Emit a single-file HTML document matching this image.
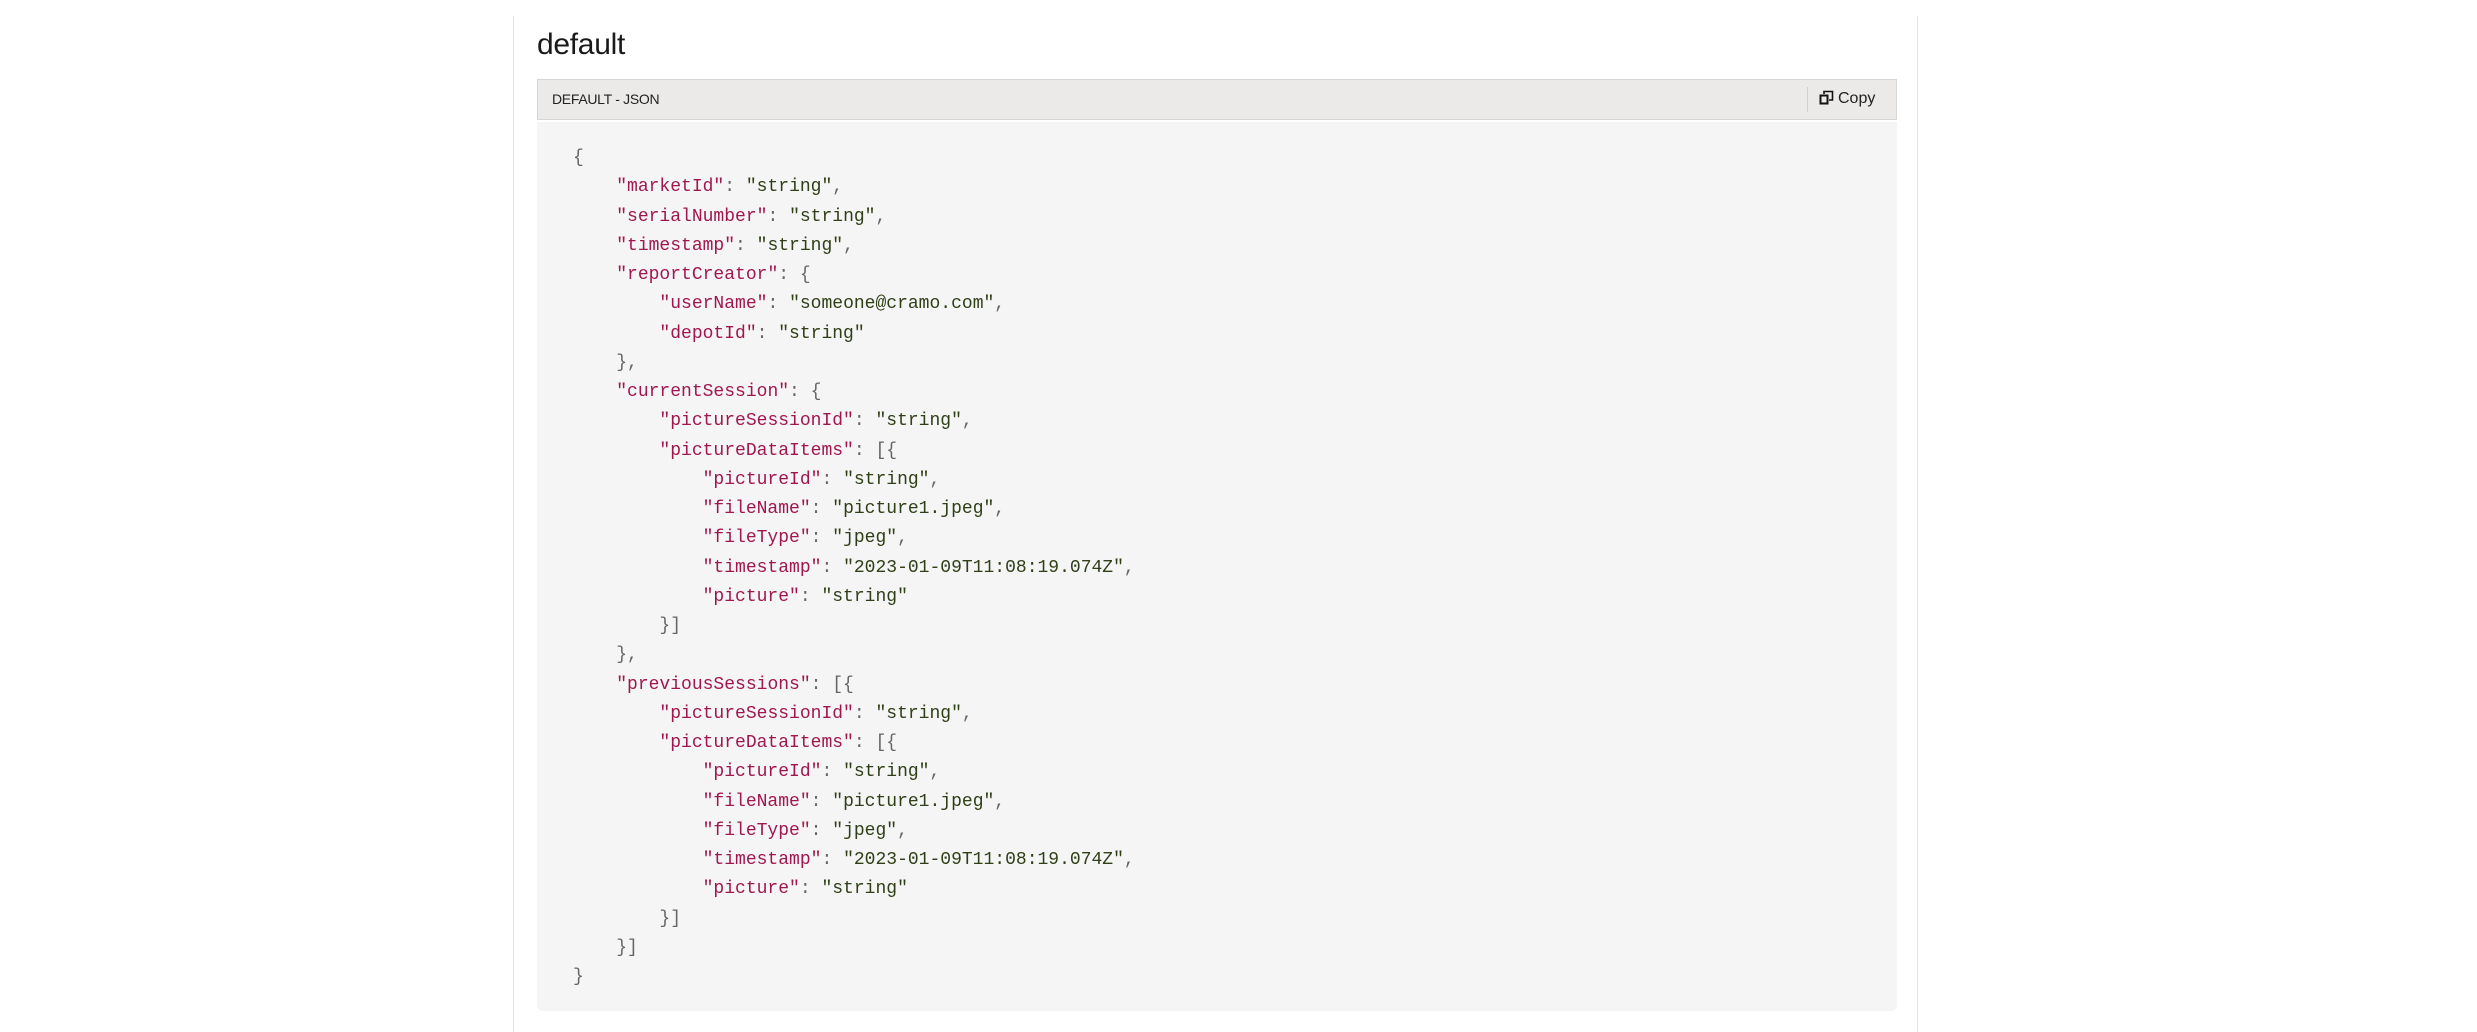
<!DOCTYPE html>
<html><head><style>
html,body{margin:0;padding:0;background:#fff;width:2477px;height:1032px;overflow:hidden}
.vl{position:absolute;top:16px;bottom:0;width:1px;background:#e6e6e6}
h1{position:absolute;left:537px;top:28px;margin:0;font:400 30px "Liberation Sans",sans-serif;color:#1a1a1a;letter-spacing:-0.3px}
.hdr{position:absolute;left:537px;top:79px;width:1360px;height:41px;background:#ebeae8;border:1px solid #d6d6d6;box-sizing:border-box}
.hdr .t{position:absolute;left:14px;top:11px;font:14px "Liberation Sans",sans-serif;color:#222;letter-spacing:-0.3px}
.hdr .sep{position:absolute;left:1269px;top:7px;width:1px;height:25px;background:#d0d0d0}
.hdr .cp{position:absolute;left:1281px;top:10px;font:16px "Liberation Sans",sans-serif;color:#222}
.code{position:absolute;left:537px;top:122px;width:1360px;height:889px;background:#f5f5f5;border-radius:0 0 6px 6px}
pre{position:absolute;left:36px;top:22px;margin:0;font:18px "Liberation Mono",monospace;line-height:29.25px;color:#666}
.k{color:#a0174f}.s{color:#2f3f17}
</style></head><body>
<div class="vl" style="left:513px"></div>
<div class="vl" style="left:1917px"></div>
<h1>default</h1>
<div class="hdr"><span class="t">DEFAULT - JSON</span><div class="sep"></div>
<span class="cp"><svg width="15" height="15" viewBox="0 0 15 15" style="vertical-align:-2px;margin-right:4px"><rect x="1.5" y="5.5" width="7" height="8" fill="none" stroke="#111" stroke-width="2"/><path d="M5 4V1.5h8.5V10H10" fill="none" stroke="#111" stroke-width="1.6"/></svg>Copy</span></div>
<div class="code"><pre>{
    <span class="k">"marketId"</span>: <span class="s">"string"</span>,
    <span class="k">"serialNumber"</span>: <span class="s">"string"</span>,
    <span class="k">"timestamp"</span>: <span class="s">"string"</span>,
    <span class="k">"reportCreator"</span>: {
        <span class="k">"userName"</span>: <span class="s">"someone@cramo.com"</span>,
        <span class="k">"depotId"</span>: <span class="s">"string"</span>
    },
    <span class="k">"currentSession"</span>: {
        <span class="k">"pictureSessionId"</span>: <span class="s">"string"</span>,
        <span class="k">"pictureDataItems"</span>: [{
            <span class="k">"pictureId"</span>: <span class="s">"string"</span>,
            <span class="k">"fileName"</span>: <span class="s">"picture1.jpeg"</span>,
            <span class="k">"fileType"</span>: <span class="s">"jpeg"</span>,
            <span class="k">"timestamp"</span>: <span class="s">"2023-01-09T11:08:19.074Z"</span>,
            <span class="k">"picture"</span>: <span class="s">"string"</span>
        }]
    },
    <span class="k">"previousSessions"</span>: [{
        <span class="k">"pictureSessionId"</span>: <span class="s">"string"</span>,
        <span class="k">"pictureDataItems"</span>: [{
            <span class="k">"pictureId"</span>: <span class="s">"string"</span>,
            <span class="k">"fileName"</span>: <span class="s">"picture1.jpeg"</span>,
            <span class="k">"fileType"</span>: <span class="s">"jpeg"</span>,
            <span class="k">"timestamp"</span>: <span class="s">"2023-01-09T11:08:19.074Z"</span>,
            <span class="k">"picture"</span>: <span class="s">"string"</span>
        }]
    }]
}</pre></div>
</body></html>
